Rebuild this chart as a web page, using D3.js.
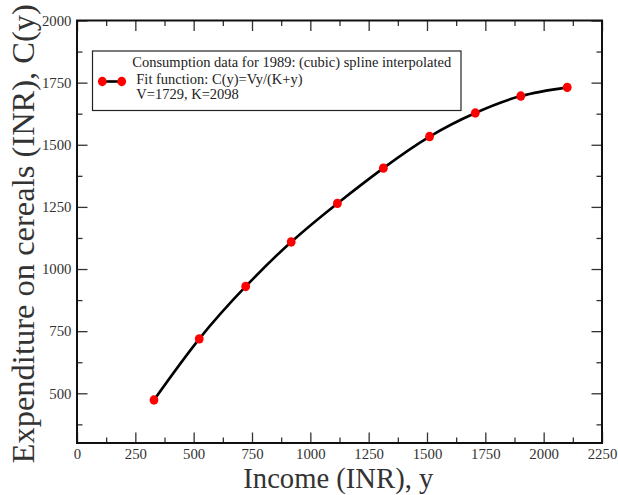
<!DOCTYPE html>
<html>
<head>
<meta charset="utf-8">
<script src="https://cdn.jsdelivr.net/npm/d3@7"></script>
<style>
  html, body { margin: 0; padding: 0; background: #fff; }
  svg { display: block; }
  text { font-family: "Liberation Serif", "DejaVu Serif", serif; }
</style>
</head>
<body>
<svg id="chart" width="618" height="495"></svg>
<script>
// ---- data ----
const income = [330, 524, 723, 918, 1116, 1313, 1511, 1707, 1902, 2101];
const expenditure = [473, 719, 930, 1109, 1264, 1406, 1533, 1628, 1696, 1731];
const xTicks = [0, 250, 500, 750, 1000, 1250, 1500, 1750, 2000, 2250];
const yTicks = [500, 750, 1000, 1250, 1500, 1750, 2000];
const legendLines = [
  "Consumption data for 1989: (cubic) spline interpolated",
  "Fit function: C(y)=Vy/(K+y)",
  "V=1729, K=2098"
];
const xTitle = "Income (INR), y";
const yTitle = "Expenditure on cereals (INR), C(y)";

// ---- layout ----
const L = 77, R = 602, T = 20.5, B = 443;
const svg = d3.select("#chart");
const x = d3.scaleLinear().domain([0, 2250]).range([L, R]);
const y = d3.scaleLinear().domain([300, 2000]).range([B, T]);

const xMinor = d3.range(125, 2250, 250);
const yMinor = d3.range(375, 2000, 250);
const tickCol = "#333";

function styleAxis(g) {
  g.select(".domain").remove();
  g.selectAll("line").attr("stroke", tickCol).attr("stroke-width", 1.3);
  g.selectAll("text").attr("font-size", 14.8).attr("fill", "#333")
    .style("font-family", '"Liberation Serif", serif');
}

// bottom
svg.append("g").attr("transform", `translate(0,${B})`)
  .call(d3.axisBottom(x).tickValues(xTicks).tickSize(-10.5).tickPadding(5).tickFormat(d3.format("d")))
  .call(styleAxis);
svg.append("g").attr("transform", `translate(0,${B})`)
  .call(d3.axisBottom(x).tickValues(xMinor).tickSize(-5.5).tickFormat(""))
  .call(styleAxis);
// top
svg.append("g").attr("transform", `translate(0,${T})`)
  .call(d3.axisTop(x).tickValues(xTicks).tickSize(-10.5).tickFormat(""))
  .call(styleAxis);
svg.append("g").attr("transform", `translate(0,${T})`)
  .call(d3.axisTop(x).tickValues(xMinor).tickSize(-5.5).tickFormat(""))
  .call(styleAxis);
// left
svg.append("g").attr("transform", `translate(${L},0)`)
  .call(d3.axisLeft(y).tickValues(yTicks).tickSize(-10.5).tickPadding(5.5).tickFormat(d3.format("d")))
  .call(styleAxis);
svg.append("g").attr("transform", `translate(${L},0)`)
  .call(d3.axisLeft(y).tickValues(yMinor).tickSize(-5.5).tickFormat(""))
  .call(styleAxis);
// right
svg.append("g").attr("transform", `translate(${R},0)`)
  .call(d3.axisRight(y).tickValues(yTicks).tickSize(-10.5).tickFormat(""))
  .call(styleAxis);
svg.append("g").attr("transform", `translate(${R},0)`)
  .call(d3.axisRight(y).tickValues(yMinor).tickSize(-5.5).tickFormat(""))
  .call(styleAxis);

// frame
svg.append("rect").attr("x", L).attr("y", T).attr("width", R - L).attr("height", B - T)
  .attr("fill", "none").attr("stroke", "#111").attr("stroke-width", 2);

// data line
const pts = income.map((v, i) => [v, expenditure[i]]);
svg.append("path").datum(pts)
  .attr("fill", "none").attr("stroke", "#000").attr("stroke-width", 2.6)
  .attr("d", d3.line().x(d => x(d[0])).y(d => y(d[1])).curve(d3.curveNatural));
svg.append("g").selectAll("ellipse").data(pts).join("ellipse")
  .attr("cx", d => x(d[0])).attr("cy", d => y(d[1]))
  .attr("rx", 4.4).attr("ry", 4.7).attr("fill", "#ff0000");

// legend
const lg = svg.append("g");
lg.append("rect").attr("x", 92.5).attr("y", 51).attr("width", 368.5).attr("height", 59.5)
  .attr("fill", "#fff").attr("stroke", "#222").attr("stroke-width", 1.2);
lg.append("line").attr("x1", 102.3).attr("x2", 121.7).attr("y1", 81.5).attr("y2", 81.5)
  .attr("stroke", "#000").attr("stroke-width", 2.6);
[102.3, 121.7].forEach(cx => lg.append("ellipse").attr("cx", cx).attr("cy", 81.5)
  .attr("rx", 4.4).attr("ry", 4.7).attr("fill", "#ff0000"));
const lgX = [132.3, 136.3, 136.3];
const lgY = [67, 83.6, 99.4];
legendLines.forEach((t, i) => lg.append("text").attr("x", lgX[i]).attr("y", lgY[i])
  .attr("font-size", 14.5).attr("fill", "#222").text(t));

// titles
svg.append("text").attr("x", 243.3).attr("y", 488)
  .attr("font-size", 30).attr("fill", "#333")
  .attr("textLength", 190).attr("lengthAdjust", "spacingAndGlyphs").text(xTitle);
svg.append("text").attr("transform", `translate(33.5,${(T + B) / 2 + 2}) rotate(-90)`)
  .attr("text-anchor", "middle").attr("font-size", 32.5).attr("fill", "#333").text(yTitle);
</script>
</body>
</html>
